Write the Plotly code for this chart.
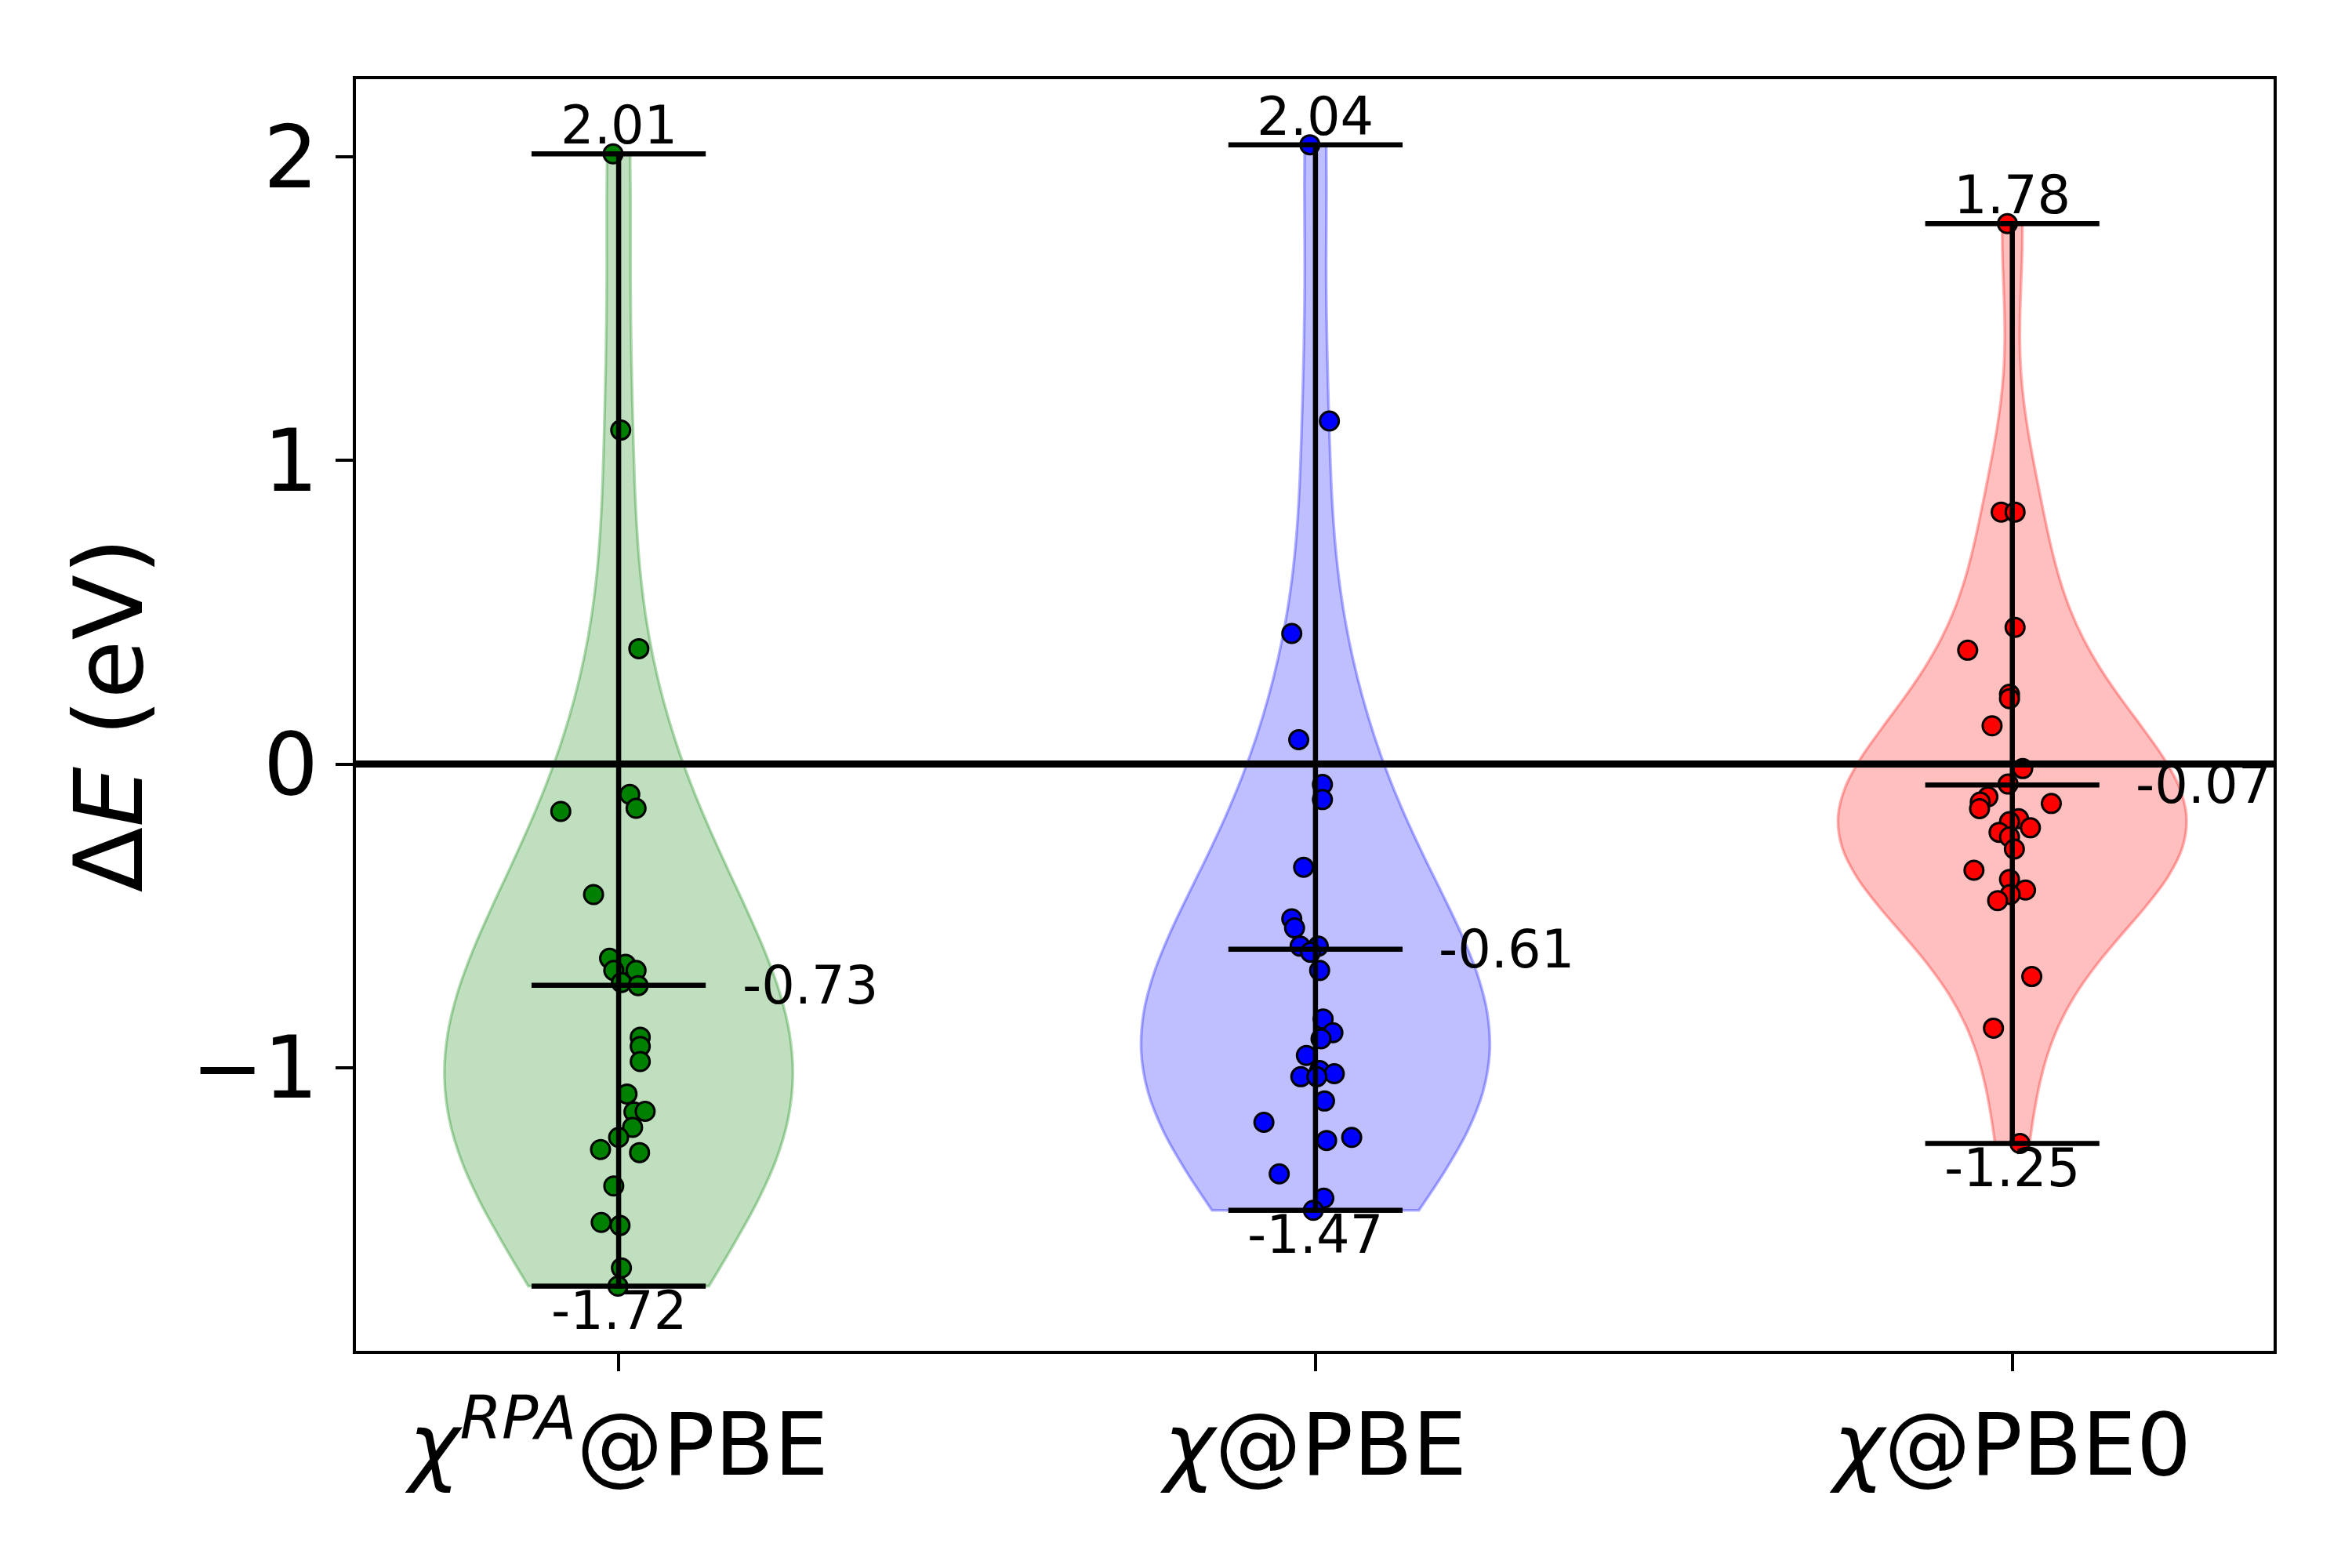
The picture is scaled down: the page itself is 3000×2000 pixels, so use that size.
import numpy as np
import plotly.graph_objects as go

# ---------------- data ----------------
categories = ["χ^RPA@PBE", "χ@PBE", "χ@PBE0"]
tick_labels = ["<i>χ</i><sup><i>RPA</i></sup>@PBE", "<i>χ</i>@PBE", "<i>χ</i>@PBE0"]
positions = [1, 2, 3]

rpa_pbe = [2.01, 1.10, 0.38, -0.10, -0.146, -0.156, -0.43, -0.64, -0.66, -0.68,
           -0.68, -0.72, -0.73, -0.90, -0.93, -0.98, -1.087, -1.146, -1.144, -1.197,
           -1.23, -1.27, -1.28, -1.39, -1.51, -1.52, -1.66, -1.72]
rpa_pbe_jitter = [-0.008, 0.003, 0.029, 0.016, 0.025, -0.083, -0.036, -0.013, 0.010, 0.025,
                  -0.007, 0.004, 0.028, 0.031, 0.031, 0.031, 0.012, 0.022, 0.038, 0.020,
                  0.000, -0.026, 0.030, -0.007, -0.025, 0.002, 0.004, -0.001]

chi_pbe = [2.04, 1.13, 0.43, 0.08, -0.067, -0.117, -0.34, -0.51, -0.54, -0.60,
           -0.60, -0.62, -0.68, -0.84, -0.885, -0.905, -0.96, -1.01, -1.03, -1.02,
           -1.03, -1.11, -1.18, -1.24, -1.23, -1.35, -1.43, -1.47]
chi_pbe_jitter = [-0.008, 0.020, -0.034, -0.024, 0.010, 0.010, -0.017, -0.034, -0.030, -0.022,
                  0.004, -0.007, 0.006, 0.011, 0.025, 0.008, -0.013, 0.006, -0.021, 0.027,
                  0.002, 0.013, -0.074, 0.016, 0.052, -0.052, 0.012, -0.003]

chi_pbe0 = [1.78, 0.83, 0.83, 0.45, 0.375, 0.23, 0.215, 0.126, -0.015, -0.066,
            -0.108, -0.125, -0.147, -0.13, -0.18, -0.19, -0.21, -0.225, -0.24, -0.28,
            -0.35, -0.38, -0.415, -0.43, -0.45, -0.70, -0.87, -1.25]
chi_pbe0_jitter = [-0.007, -0.016, 0.004, 0.004, -0.064, -0.004, -0.004, -0.029, 0.015, -0.006,
                   -0.035, -0.046, -0.047, 0.056, 0.009, -0.004, 0.026, -0.019, -0.004, 0.003,
                   -0.055, -0.004, 0.019, -0.003, -0.021, 0.028, -0.027, 0.011]

series = [rpa_pbe, chi_pbe, chi_pbe0]
jitters = [rpa_pbe_jitter, chi_pbe_jitter, chi_pbe0_jitter]
point_colors = ["#008000", "#0000ff", "#ff0000"]
body_fill = ["rgba(0,128,0,0.25)", "rgba(0,0,255,0.25)", "rgba(255,0,0,0.25)"]
body_edge = ["rgba(0,128,0,0.3)", "rgba(0,0,255,0.3)", "rgba(255,0,0,0.3)"]

x_range = [0.623, 3.375]
y_range = [-1.933, 2.256]
violin_width = 0.5
cap_half = 0.125
FONT = "DejaVu Sans"
LABEL_SIZE = 67

fig = go.Figure()

# violin bodies (Scott's rule bandwidth, like matplotlib)
for pos, vals, fc, ec in zip(positions, series, body_fill, body_edge):
    arr = np.asarray(vals)
    bw = arr.std(ddof=1) * len(arr) ** (-0.2)
    fig.add_trace(go.Violin(
        x0=pos, y=arr, width=violin_width, spanmode="hard", bandwidth=bw,
        points=False, box_visible=False, meanline_visible=False,
        fillcolor=fc, line=dict(color=ec, width=3.5), scalemode="width",
        hoverinfo="skip", showlegend=False, orientation="v"))

# scatter points
for pos, vals, jit, col in zip(positions, series, jitters, point_colors):
    fig.add_trace(go.Scatter(
        x=[pos + j for j in jit], y=vals, mode="markers",
        marker=dict(size=24, color=col, line=dict(color="black", width=3)),
        hoverinfo="skip", showlegend=False))

annotations = []
for pos, vals in zip(positions, series):
    arr = np.asarray(vals)
    vmin, vmax, vmean = arr.min(), arr.max(), arr.mean()
    # vertical bar
    fig.add_trace(go.Scatter(x=[pos, pos], y=[vmin, vmax], mode="lines",
                             line=dict(color="black", width=6.5), hoverinfo="skip", showlegend=False))
    for v in (vmin, vmax, vmean):
        fig.add_trace(go.Scatter(x=[pos - cap_half, pos + cap_half], y=[v, v], mode="lines",
                                 line=dict(color="black", width=6.5), hoverinfo="skip", showlegend=False))
    annotations.append(dict(x=pos, y=vmax, text=f"{vmax:.2f}", xanchor="center", yanchor="bottom",
                            showarrow=False, font=dict(size=LABEL_SIZE, color="black", family=FONT),
                            yshift=-5))
    annotations.append(dict(x=pos, y=vmin, text=f"{vmin:.2f}", xanchor="center", yanchor="top",
                            showarrow=False, font=dict(size=LABEL_SIZE, color="black", family=FONT),
                            yshift=10))
    annotations.append(dict(x=pos + 0.175, y=vmean, text=f"{vmean:.2f}", xanchor="left",
                            yanchor="middle", showarrow=False,
                            font=dict(size=LABEL_SIZE, color="black", family=FONT)))

# zero line across the axes
fig.add_trace(go.Scatter(x=x_range, y=[0, 0], mode="lines", line=dict(color="black", width=9),
                         hoverinfo="skip", showlegend=False))

fig.update_layout(
    width=3000, height=2000, autosize=False,
    margin=dict(l=454, r=100, t=101, b=277, pad=0),
    paper_bgcolor="white", plot_bgcolor="white",
    violinmode="overlay",
    font=dict(family=FONT, color="black", size=110),
    annotations=annotations,
    showlegend=False,
)
fig.update_xaxes(range=x_range, tickvals=positions, ticktext=tick_labels,
                 showgrid=False, zeroline=False, showline=True, linecolor="black", linewidth=4,
                 mirror=True, ticks="outside", ticklen=22, tickwidth=4, tickcolor="black",
                 tickfont=dict(size=110, family=FONT, color="black"))
fig.update_yaxes(range=y_range, tickvals=[-1, 0, 1, 2],
                 showgrid=False, zeroline=False, showline=True, linecolor="black", linewidth=4,
                 mirror=True, ticks="outside", ticklen=22, tickwidth=4, tickcolor="black",
                 tickfont=dict(size=110, family=FONT, color="black"),
                 title=dict(text="Δ<i>E</i> (eV)", font=dict(size=122, family=FONT, color="black"),
                            standoff=22))

fig.write_html("out.html", config={"displayModeBar": False},
               post_script="document.body.style.margin='0';")
